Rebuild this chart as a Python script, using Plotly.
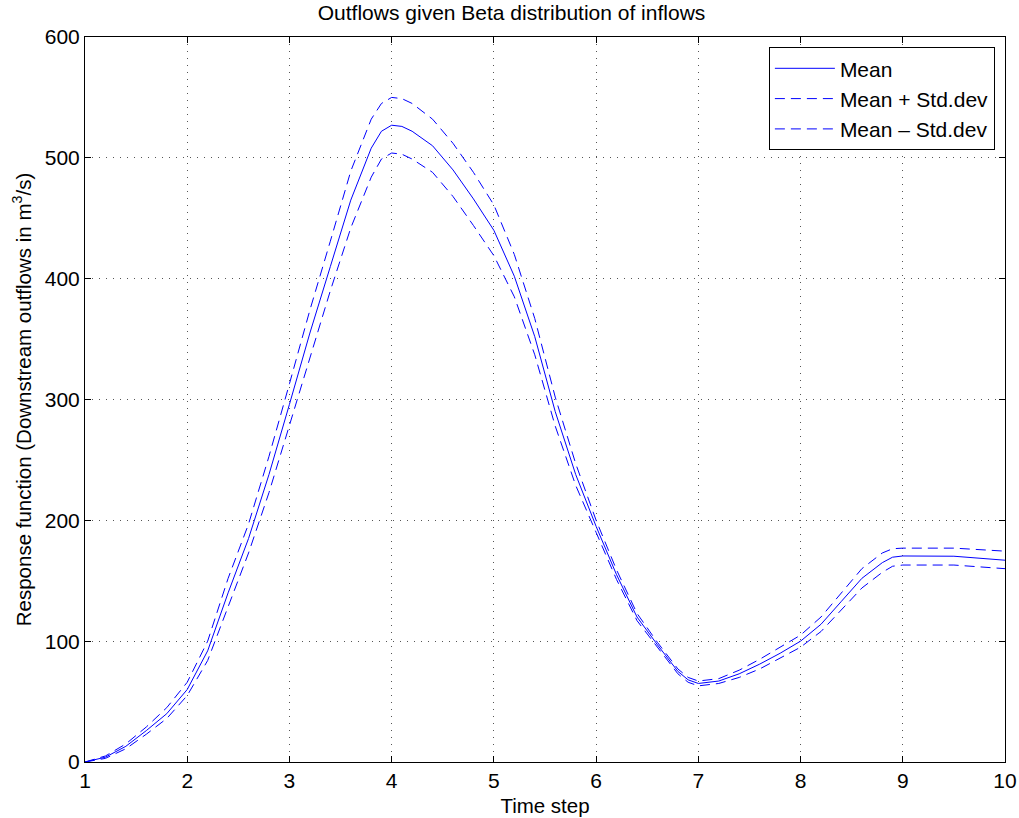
import plotly.graph_objects as go

time_step = [1.0, 1.2, 1.4, 1.6, 1.8, 2.0, 2.2, 2.4, 2.6, 2.8, 3.0, 3.2, 3.4, 3.6, 3.8, 3.9,
             4.0, 4.1, 4.2, 4.4, 4.6, 4.8, 5.0, 5.2, 5.4, 5.6, 5.8, 6.0, 6.2, 6.4, 6.6, 6.8,
             6.9, 7.0, 7.2, 7.4, 7.6, 7.8, 8.0, 8.2, 8.4, 8.6, 8.8, 8.9, 9.0, 9.5, 10.0]
mean_vals = [0, 4, 13, 26, 40, 60, 92, 140, 185, 238, 296, 355, 410, 465, 508, 522,
             527, 526, 522, 510, 490, 466, 440, 402, 352, 290, 238, 195, 155, 120, 97, 75,
             68, 65, 67, 73, 81, 90, 100, 114, 133, 152, 165, 169.5, 170.5, 170.3, 167]
upper_vals = [0, 5, 15, 29, 45, 66, 100, 152, 197, 253, 313, 374, 431, 489, 532, 545,
              550, 549, 545, 532, 512, 488, 461, 420, 367, 302, 247, 200, 159, 123, 99, 77,
              70, 67, 69, 76, 85, 95, 105, 120, 140, 160, 173, 176.5, 177, 177, 174.5]
lower_vals = [0, 3, 11, 23, 36, 55, 84, 128, 173, 223, 279, 336, 390, 442, 484, 499,
              504, 503, 499, 488, 468, 444, 419, 385, 337, 278, 229, 190, 151, 117, 95, 73,
              66, 63, 65, 70, 77, 86, 95, 108, 126, 144, 157, 162, 163, 163, 160]

series_names = ["Mean", "Mean + Std.dev", "Mean \u2013 Std.dev"]

blue = "#0000ff"
fig = go.Figure()
fig.add_trace(go.Scatter(x=time_step, y=mean_vals, mode="lines", name=series_names[0],
                         line=dict(color=blue, width=1)))
fig.add_trace(go.Scatter(x=time_step, y=upper_vals, mode="lines", name=series_names[1],
                         line=dict(color=blue, width=1, dash="10px,6px")))
fig.add_trace(go.Scatter(x=time_step, y=lower_vals, mode="lines", name=series_names[2],
                         line=dict(color=blue, width=1, dash="10px,6px")))

axis_common = dict(
    showline=True, linecolor="black", linewidth=1, mirror="allticks",
    ticks="inside", ticklen=6, tickcolor="black", automargin=False,
    showgrid=True, gridcolor="#555555", griddash="1px,6px", gridwidth=1,
    zeroline=False, tickfont=dict(size=21, color="black"),
)

fig.update_layout(
    width=1019, height=818,
    margin=dict(l=85, r=14, t=37, b=56),
    paper_bgcolor="white", plot_bgcolor="white",
    font=dict(family="Liberation Sans, Arial, sans-serif", color="black"),
    title=dict(text="Outflows given Beta distribution of inflows", x=0.502, xanchor="center",
               yref="container", y=0.985, yanchor="middle", font=dict(size=21)),
    xaxis=dict(range=[1, 10], tickvals=[1, 2, 3, 4, 5, 6, 7, 8, 9, 10],
               title=dict(text="Time step", font=dict(size=20.5), standoff=7), **axis_common),
    yaxis=dict(range=[0, 600], tickvals=[0, 100, 200, 300, 400, 500, 600],
               title=dict(text="Response function (Downstream outflows in m<sup>3</sup>/s)",
                          font=dict(size=20.5), standoff=7), **axis_common),
    legend=dict(x=0.989, y=0.986, xanchor="right", yanchor="top",
                bordercolor="black", borderwidth=1, bgcolor="white",
                font=dict(size=21), tracegroupgap=0, itemwidth=60),
    showlegend=True,
)

fig.write_html("out.html", config={"displayModeBar": False},
               post_script="document.body.style.margin='0';")
